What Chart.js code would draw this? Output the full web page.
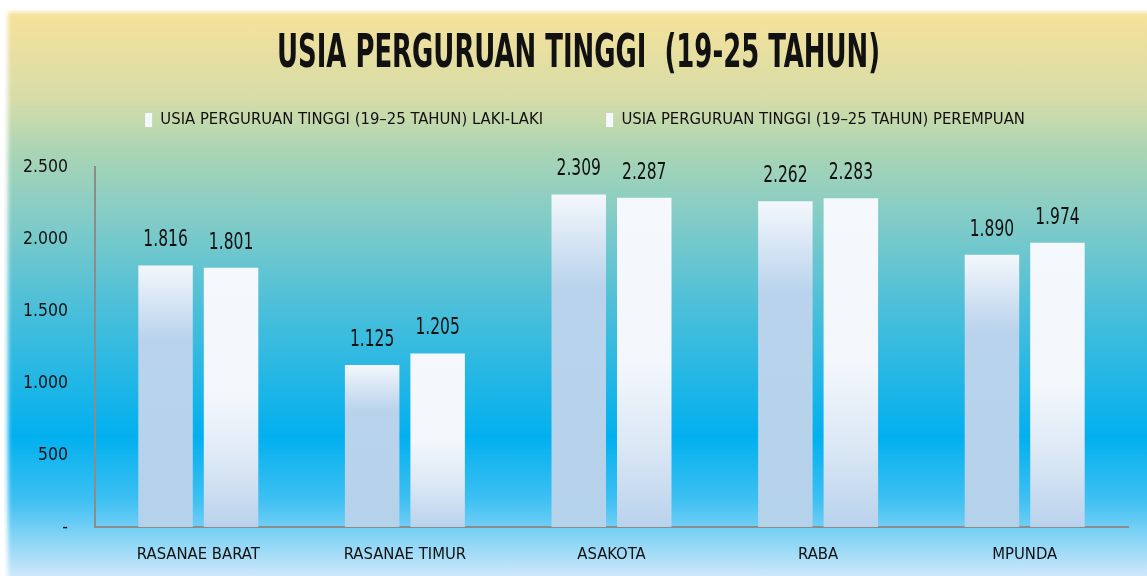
<!DOCTYPE html>
<html>
<head>
<meta charset="utf-8">
<script src="https://cdn.jsdelivr.net/npm/chart.js@4.4.1/dist/chart.umd.min.js"></script>
<style>
  html, body { margin: 0; padding: 0; background: #ffffff; }
  #wrap { position: relative; width: 1147px; height: 576px; overflow: hidden; background: #ffffff; }
  #panel {
    position: absolute; left: 4px; top: 10px; width: 1143px; height: 566px;
    background: linear-gradient(to bottom,
      #F6E29A 0.4%, #D6DCA8 15.9%, #ABD5B4 24.7%, #88CDC5 35.3%,
      #50C0D8 51.2%, #02B0EF 75.4%, #3EC0F2 86.6%, #CDE8FA 100%);
    box-shadow: inset 5px 3px 4px -1px rgba(255,255,255,0.95);
  }
  canvas { position: absolute; left: 0; top: 0; }
</style>
</head>
<body>
<div id="wrap">
  <div id="panel"></div>
  <canvas id="c" width="1147" height="576"></canvas>
</div>
<script>
const categories = ['RASANAE BARAT', 'RASANAE TIMUR', 'ASAKOTA', 'RABA', 'MPUNDA'];
const seriesNames = ['USIA PERGURUAN TINGGI (19–25 TAHUN) LAKI-LAKI', 'USIA PERGURUAN TINGGI (19–25 TAHUN) PEREMPUAN'];
const lakiLaki = [1816, 1125, 2309, 2262, 1890];
const perempuan = [1801, 1205, 2287, 2283, 1974];
const titleText = 'USIA PERGURUAN TINGGI  (19-25 TAHUN)';
const yMax = 2500;
const yStep = 500;

const FONT = "'DejaVu Sans Condensed', 'Liberation Sans Narrow', sans-serif";
const TXT = '#111111';

function fmt(v) {
  return String(v).replace(/\B(?=(\d{3})+(?!\d))/g, '.');
}

function barFill(kind) {
  return function (c) {
    const chart = c.chart;
    if (c.type !== 'data' || !chart.chartArea) {
      return kind === 0 ? '#B3CFEA' : '#F0F5FB';
    }
    const ys = chart.scales.y;
    const top = ys.getPixelForValue(c.raw);
    const bottom = ys.getPixelForValue(0);
    const g = chart.ctx.createLinearGradient(0, top, 0, bottom);
    if (kind === 0) {
      g.addColorStop(0, '#F4F7FC');
      g.addColorStop(0.28, '#B9D3EC');
      g.addColorStop(1, '#B5D2EB');
    } else {
      g.addColorStop(0, '#F5F8FC');
      g.addColorStop(0.5, '#F3F7FC');
      g.addColorStop(0.75, '#DCE8F5');
      g.addColorStop(1, '#B9D2EC');
    }
    return g;
  };
}

const boxPlacement = {
  id: 'boxPlacement',
  afterLayout(chart) {
    if (chart.titleBlock) {
      chart.titleBlock.left = 277;
      chart.titleBlock.right = 880;
    }
    if (chart.legend) {
      chart.legend.left = 42;
    }
  }
};

const valueLabels = {
  id: 'valueLabels',
  afterDatasetsDraw(chart) {
    const ctx = chart.ctx;
    ctx.save();
    ctx.font = '23px ' + FONT;
    ctx.fillStyle = TXT;
    ctx.textAlign = 'center';
    ctx.textBaseline = 'middle';
    chart.data.datasets.forEach((ds, di) => {
      const meta = chart.getDatasetMeta(di);
      meta.data.forEach((bar, i) => {
        const t = fmt(ds.data[i]);
        const w = ctx.measureText(t).width;
        ctx.fillText(t, bar.x, bar.y - 25, w * 0.75);
      });
    });
    ctx.restore();
  }
};

new Chart(document.getElementById('c'), {
  type: 'bar',
  data: {
    labels: categories,
    datasets: [
      { label: seriesNames[0], data: lakiLaki, backgroundColor: barFill(0), borderWidth: 0 },
      { label: seriesNames[1], data: perempuan, backgroundColor: barFill(1), borderWidth: 0 }
    ]
  },
  options: {
    responsive: false,
    animation: false,
    devicePixelRatio: 1,
    categoryPercentage: 0.634,
    barPercentage: 0.832,
    layout: { padding: { left: 0, right: 19, top: 0, bottom: 0 } },
    plugins: {
      tooltip: { enabled: false },
      title: {
        display: true,
        text: titleText,
        color: TXT,
        font: { family: FONT, size: 47, weight: 'bold', lineHeight: 1 },
        padding: { top: 31, bottom: -29.25 }
      },
      subtitle: {
        display: true,
        text: '',
        weight: 500,
        font: { family: FONT, size: 28.75, lineHeight: 1 },
        padding: 0
      },
      legend: {
        display: true,
        position: 'top',
        labels: {
          color: TXT,
          font: { family: FONT, size: 16.5 },
          boxWidth: 7,
          boxHeight: 14,
          padding: 63
        }
      }
    },
    scales: {
      x: {
        grid: { display: false, drawTicks: false },
        border: { display: true, color: '#8C8C8C', width: 2 },
        ticks: { color: TXT, font: { family: FONT, size: 16.5 }, padding: 18, maxRotation: 0 },
        afterFit(s) { s.height = 49; }
      },
      y: {
        min: 0,
        max: yMax,
        grid: { display: false, drawTicks: false },
        border: { display: true, color: '#8C8C8C', width: 2 },
        ticks: {
          stepSize: yStep,
          color: TXT,
          font: { family: FONT, size: 17.5 },
          padding: 27,
          callback: (v) => (v === 0 ? '-' : fmt(v))
        },
        afterFit(s) { s.width = 95; }
      }
    }
  },
  plugins: [boxPlacement, valueLabels]
});
</script>
</body>
</html>
